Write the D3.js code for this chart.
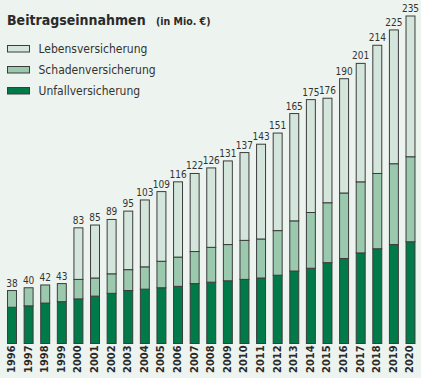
<!DOCTYPE html>
<html><head><meta charset="utf-8">
<script src="https://cdn.jsdelivr.net/npm/d3@7"></script>
<style>
html,body{margin:0;padding:0;background:#edf3ee;}
#wrap{position:relative;width:421px;height:378px;overflow:hidden;}
svg{display:block;position:absolute;left:0;top:0;}
.yr{position:absolute;font-family:'DejaVu Sans Condensed','Open Sans',sans-serif;font-size:11px;font-weight:bold;color:#2a2a2a;line-height:11px;white-space:nowrap;transform-origin:0 0;transform:rotate(-90deg);}
</style></head>
<body>
<div id="wrap"></div>
<script>
const years = ["1996","1997","1998","1999","2000","2001","2002","2003","2004","2005","2006","2007","2008","2009","2010","2011","2012","2013","2014","2015","2016","2017","2018","2019","2020"];
const unfall = [26,27,29,30,32,34,36,38,39,40,41,43,44,45,46,47,49,52,54,58,61,65,68,71,73];
const schaden = [12,13,13,13,14,13,14,15,16,19,21,23,25,26,28,28,32,36,40,43,47,51,54,58,61];
const totals = [38,40,42,43,83,85,89,95,103,109,116,122,126,131,137,143,151,165,175,176,190,201,214,225,235];
const leben = totals.map((t,i)=> Math.max(0, t - unfall[i] - schaden[i]));
const seriesNames = ["Lebensversicherung","Schadenversicherung","Unfallversicherung"];
const colors = {Unfallversicherung:"#007a49", Schadenversicherung:"#9bc9ae", Lebensversicherung:"#d4e6db"};

const W=421, H=378;
const wrap = d3.select("#wrap");
const svg = wrap.append("svg").attr("width",W).attr("height",H);
svg.append("rect").attr("width",W).attr("height",H).attr("fill","#edf3ee");

const x = d3.scaleBand().domain(years).range([3.7,418.8]).paddingInner(0.4).paddingOuter(0.2);
const y = d3.scaleLinear().domain([0,235]).range([343.5,16]);

const rows = years.map((yr,i)=>({year:yr, Unfallversicherung:unfall[i], Schadenversicherung:schaden[i], Lebensversicherung:leben[i], total:totals[i]}));
const stack = d3.stack().keys(["Unfallversicherung","Schadenversicherung","Lebensversicherung"]);
const layers = stack(rows);

const font = "'DejaVu Sans Condensed','Open Sans',sans-serif";

svg.append("g").selectAll("g").data(layers).join("g")
  .attr("fill", d=>colors[d.key])
  .selectAll("rect").data(d=>d).join("rect")
  .attr("x", d=>x(d.data.year)+0.5)
  .attr("width", x.bandwidth()-1)
  .attr("y", d=>y(d[1]))
  .attr("height", d=>y(d[0])-y(d[1]))
  .attr("stroke","#3c3c3c").attr("stroke-width",1);

// value labels
svg.append("g").selectAll("text").data(rows).join("text")
  .attr("x", d=>x(d.year)+x.bandwidth()/2)
  .attr("y", d=>y(d.total)-4)
  .attr("text-anchor","middle")
  .attr("font-family",font).attr("font-size",10).attr("fill","#333")
  .text(d=>d.total);

// year axis labels: HTML, rotated -90deg, reading bottom-to-top
wrap.selectAll("div.yr").data(years).join("div")
  .attr("class","yr")
  .style("left", d=>(x(d)+x.bandwidth()/2-6)+"px")
  .style("top", "373px")
  .text(d=>d);

// title
svg.append("text").attr("x",7).attr("y",24.5)
  .attr("font-family",font).attr("font-weight","bold").attr("fill","#2a2a2a")
  .attr("font-size",14).text("Beitragseinnahmen");
svg.append("text").attr("x",156).attr("y",24.5)
  .attr("font-family",font).attr("font-weight","bold").attr("fill","#2a2a2a")
  .attr("font-size",10.5).text("(in Mio. €)");

// legend
const leg = svg.append("g");
seriesNames.forEach((name,i)=>{
  const yy = 45.5 + i*21;
  leg.append("rect").attr("x",7.5).attr("y",yy).attr("width",22).attr("height",6.5)
    .attr("fill",colors[name]).attr("stroke","#3c3c3c").attr("stroke-width",1);
  leg.append("text").attr("x",38.5).attr("y",yy+7.5)
    .attr("font-family",font).attr("font-size",12).attr("fill","#333")
    .text(name);
});
</script>
</body></html>
